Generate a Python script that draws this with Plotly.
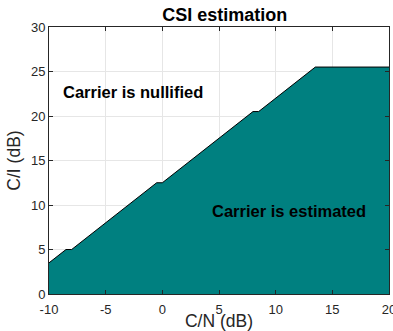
import plotly.graph_objects as go

# Boundary between the two regions (C/N in dB, C/I in dB)
cn_db = [-10, -8.5, -8, -0.5, 0, 8, 8.5, 13.5, 20]
ci_db = [3.5, 5, 5, 12.5, 12.5, 20.5, 20.5, 25.5, 25.5]

x_ticks = [-10, -5, 0, 5, 10, 15, 20]
x_tick_text = ["-10", "-5", "0", "5", "10", "15", "20"]
y_ticks = [0, 5, 10, 15, 20, 25, 30]

region_labels = ["Carrier is nullified", "Carrier is estimated"]
label_x = [-2.6, 11.2]
label_y = [22.7, 9.3]

FONT = "Liberation Sans"

fig = go.Figure()
fig.add_trace(go.Scatter(
    x=cn_db, y=ci_db, mode="lines", fill="tozeroy",
    fillcolor="#008080", line=dict(color="black", width=1),
    showlegend=False, hoverinfo="skip",
))

for txt, lx, ly in zip(region_labels, label_x, label_y):
    fig.add_annotation(x=lx, y=ly, text="<b>" + txt + "</b>", showarrow=False,
                       font=dict(size=16.5, color="black", family=FONT))

axis_common = dict(
    showgrid=True, gridcolor="#e6e6e6", gridwidth=1,
    showline=True, linecolor="#262626", linewidth=1, mirror="ticks",
    ticks="inside", ticklen=4, tickcolor="#262626",
    tickfont=dict(size=13, color="#262626", family=FONT),
    ticklabeloverflow="allow", automargin=False,
    zeroline=False,
)

fig.update_layout(
    width=393, height=331,
    margin=dict(l=49, r=4, t=27, b=37),
    plot_bgcolor="white", paper_bgcolor="white",
    title=dict(text="<b>CSI estimation</b>", x=0.572, xanchor="center",
               y=0.957, yanchor="middle", automargin=False,
               font=dict(size=18, color="black", family=FONT)),
    xaxis=dict(range=[-10, 20], tickvals=x_ticks, ticktext=x_tick_text,
               ticklabelstandoff=3,
               title=dict(text="C/N (dB)", standoff=0,
                          font=dict(size=17.5, color="#262626", family=FONT)),
               **axis_common),
    yaxis=dict(range=[0, 30], tickvals=y_ticks,
               title=dict(text="C/I (dB)", standoff=5,
                          font=dict(size=17.5, color="#262626", family=FONT)),
               **axis_common),
)

fig.write_html("out.html")
